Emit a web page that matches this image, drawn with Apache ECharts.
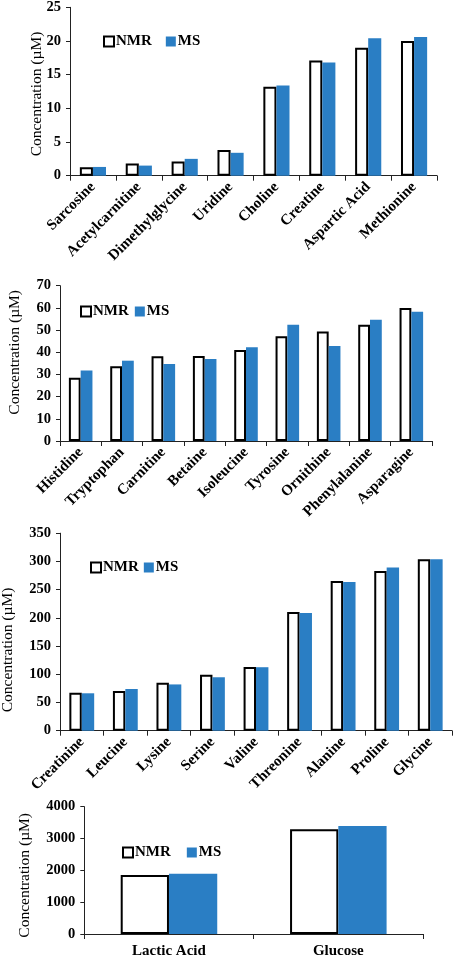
<!DOCTYPE html>
<html>
<head>
<meta charset="utf-8">
<script src="https://cdn.jsdelivr.net/npm/echarts@6/dist/echarts.min.js"></script>
<style>
html,body{margin:0;padding:0;background:#fff;}
#chart{width:455px;height:960px;}
</style>
</head>
<body>
<div id="chart"></div>
<script>
// ---- data ----
const cats1 = ['Sarcosine','Acetylcarnitine','Dimethylglycine','Uridine','Choline','Creatine','Aspartic Acid','Methionine'];
const nmr1 = [1.25, 1.8, 2.1, 3.8, 13.2, 17.1, 19.0, 20.0];
const ms1  = [1.3, 1.5, 2.5, 3.4, 13.4, 16.8, 20.4, 20.6];

const cats2 = ['Histidine','Tryptophan','Carnitine','Betaine','Isoleucine','Tyrosine','Ornithine','Phenylalanine','Asparagine'];
const nmr2 = [28.5, 33.7, 38.2, 38.3, 41.0, 47.2, 49.4, 52.4, 59.9];
const ms2  = [31.8, 36.2, 34.7, 37.0, 42.3, 52.4, 42.8, 54.6, 58.3];

const cats3 = ['Creatinine','Leucine','Lysine','Serine','Valine','Threonine','Alanine','Proline','Glycine'];
const nmr3 = [67.4, 70.5, 85, 99.3, 113, 210.5, 265.4, 283.2, 303.9];
const ms3  = [66.3, 73.9, 82, 94.7, 112.5, 208.7, 263.7, 289, 303.9];

const cats4 = ['Lactic Acid','Glucose'];
const nmr4 = [1855, 3292];
const ms4  = [1896, 3396];

const yTicks = [
  {min:0, max:25, interval:5},
  {min:0, max:70, interval:10},
  {min:0, max:350, interval:50},
  {min:0, max:4000, interval:1000}
];
const yTitle = 'Concentration (\u00B5M)';
const seriesNames = ['NMR','MS'];

// ---- styling ----
const SERIF = "'Liberation Serif','Times New Roman',serif";
const BLUE = '#2a7ec4';
const grids = [
  {left:70, top:7.3, width:367, height:168.4, outerBoundsMode:'none', containLabel:false},
  {left:60, top:285.7, width:372, height:155.3, outerBoundsMode:'none', containLabel:false},
  {left:60, top:533.2, width:392, height:197.5, outerBoundsMode:'none', containLabel:false},
  {left:84.3, top:806.7, width:338.7, height:127.3, outerBoundsMode:'none', containLabel:false}
];
const nameGaps = [25, 37, 44, 51];
const namePads = [[0,5,0,0],[0,0,0,22],[0,36,0,0],[0,10,0,0]];
const legendPos = [
  {left:103, top:34, itemGap:14},
  {left:80, top:304, itemGap:6},
  {left:90, top:560, itemGap:5},
  {left:122, top:845, itemGap:16}
];
const catsAll = [cats1, cats2, cats3, cats4];
const nmrAll = [nmr1, nmr2, nmr3, nmr4];
const msAll = [ms1, ms2, ms3, ms4];

const axisLineStyle = {color:'#222', width:1};

const option = {
  animation:false,
  backgroundColor:'#fff',
  grid: grids,
  legend: legendPos.map((p)=>({
    left:p.left, top:p.top, itemGap:p.itemGap, orient:'horizontal', padding:0,
    itemWidth:10, itemHeight:10, selectedMode:false,
    textStyle:{fontFamily:SERIF, fontWeight:'bold', fontSize:15, color:'#000', padding:[0,0,0,-3]},
    data:[
      {name:'NMR', icon:'rect', itemStyle:{color:'#fff', borderColor:'#000', borderWidth:2}},
      {name:'MS', icon:'rect', itemStyle:{color:BLUE, borderWidth:0}}
    ]
  })),
  xAxis: catsAll.map((c,i)=>({
    type:'category', gridIndex:i, data:c,
    axisLine:{lineStyle:axisLineStyle},
    axisTick:{show:true, length:5, lineStyle:axisLineStyle},
    axisLabel:{
      rotate: i===3 ? 0 : 45,
      interval:0,
      margin: i===3 ? 10 : 9,
      fontFamily:SERIF, fontWeight:'bold', fontSize: 15, color:'#000'
    }
  })),
  yAxis: yTicks.map((t,i)=>({
    type:'value', gridIndex:i, min:t.min, max:t.max, interval:t.interval,
    name:yTitle, nameLocation:'middle', nameGap:nameGaps[i], nameMoveOverlap:false,
    nameTextStyle:{fontFamily:SERIF, fontSize:15.5, color:'#000', padding:namePads[i]},
    splitLine:{show:false},
    axisLine:{show:true, lineStyle:axisLineStyle},
    axisTick:{show:true, length:4, lineStyle:axisLineStyle},
    axisLabel:{margin:9, fontFamily:SERIF, fontWeight:'bold', fontSize:14.5, color:'#000',
      formatter:(v)=>String(v)}
  })),
  series: []
};

for (let i=0;i<4;i++){
  option.series.push({
    name:seriesNames[0], type:'bar', xAxisIndex:i, yAxisIndex:i, data:nmrAll[i],
    barGap:'0%', barCategoryGap:'43%',
    itemStyle:{color:'#fff', borderColor:'#000', borderWidth:2}
  });
  option.series.push({
    name:seriesNames[1], type:'bar', xAxisIndex:i, yAxisIndex:i, data:msAll[i],
    barGap:'0%', barCategoryGap:'43%',
    itemStyle:{color:BLUE}
  });
}

const chart = echarts.init(document.getElementById('chart'), null, {renderer:'canvas'});
chart.setOption(option);
</script>
</body>
</html>
